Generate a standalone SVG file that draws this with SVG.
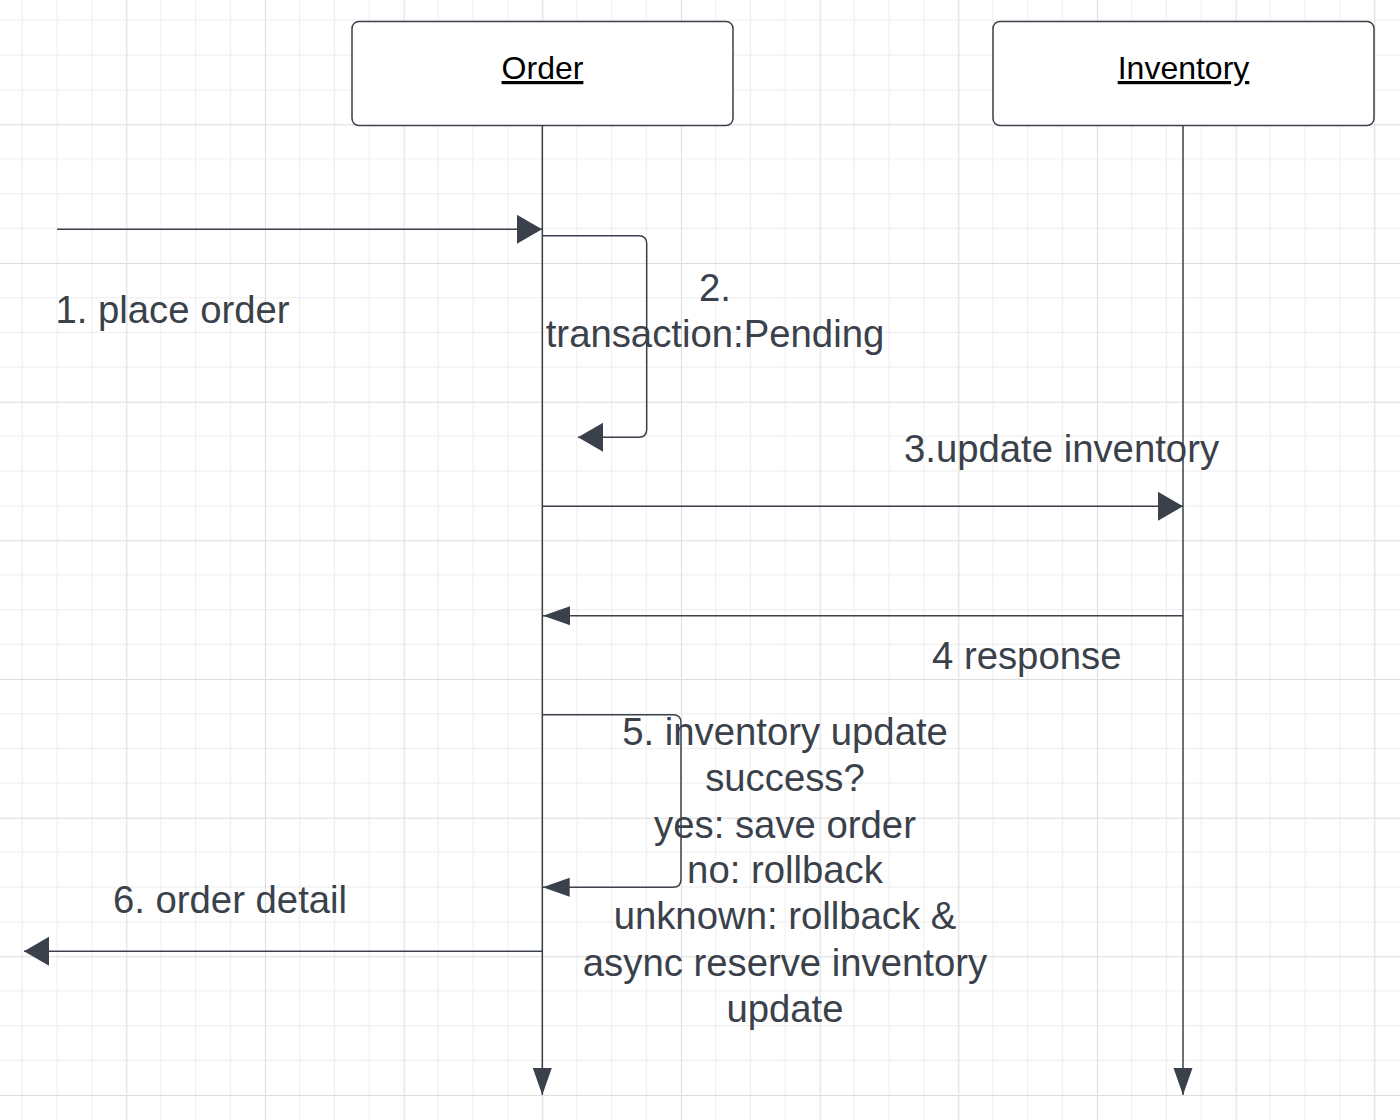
<svg xmlns="http://www.w3.org/2000/svg" width="1400" height="1120" viewBox="0 0 1400 1120">
<style>
.ln{fill:none;stroke:#3a414a;stroke-width:1.5}
.box{fill:#ffffff;stroke:#3a414a;stroke-width:1.5}
.title{font-family:"Liberation Sans",Arial,sans-serif;font-size:32px;fill:#000000;text-anchor:middle;text-decoration:underline}
.lbl{font-family:"Liberation Sans",Arial,sans-serif;font-size:38.3px;fill:#3a414a;text-anchor:middle}
</style>
<defs>
<pattern id="grid" patternUnits="userSpaceOnUse" x="-12.333" y="-14.333" width="138.667" height="138.667">
<path d="M34.667,0V138.667M69.333,0V138.667M104,0V138.667M0,34.667H138.667M0,69.333H138.667M0,104H138.667" stroke="#ededed" stroke-width="1" fill="none"/>
<path d="M0.5,0V138.667M0,0.5H138.667" stroke="#dddddd" stroke-width="1" fill="none"/>
</pattern>
<marker id="wide" markerUnits="userSpaceOnUse" markerWidth="26" markerHeight="30" viewBox="0 0 26 30" refX="25" refY="14.5" orient="auto">
<path d="M0,0L25,14.5L0,29Z" fill="#3a414a"/>
</marker>
<marker id="narrow" markerUnits="userSpaceOnUse" markerWidth="28" markerHeight="20" viewBox="0 0 28 20" refX="27" refY="9.5" orient="auto">
<path d="M0,0L27,9.5L0,19Z" fill="#3a414a"/>
</marker>
</defs>
<rect width="1400" height="1120" fill="#ffffff"/>
<rect width="1400" height="1120" fill="url(#grid)"/>
<g id="connectors">
<path class="ln" d="M542.3,125.7V1095" marker-end="url(#narrow)"/>
<path class="ln" d="M1183,125.7V1095" marker-end="url(#narrow)"/>
<path class="ln" d="M57,229.3H542" marker-end="url(#wide)"/>
<path class="ln" d="M542.3,235.7H638.7Q646.7,235.7 646.7,243.7V429.3Q646.7,437.3 638.7,437.3H578" marker-end="url(#wide)"/>
<path class="ln" d="M542.3,506.3H1183" marker-end="url(#wide)"/>
<path class="ln" d="M1183,615.7H543" marker-end="url(#narrow)"/>
<path class="ln" d="M542.3,714.7H673Q681,714.7 681,722.7V879.3Q681,887.3 673,887.3H542.7" marker-end="url(#narrow)"/>
<path class="ln" d="M542.3,951.3H24" marker-end="url(#wide)"/>
</g>
<g id="node-order">
<rect class="box" x="352" y="21.5" width="381" height="104" rx="7"/>
<text class="title" x="542.5" y="79">Order</text>
</g>
<g id="node-inventory">
<rect class="box" x="993" y="21.5" width="381" height="104" rx="7"/>
<text class="title" x="1183.5" y="79">Inventory</text>
</g>
<g id="labels">
<text class="lbl" x="172.5" y="323.3">1. place order</text>
<text class="lbl" x="715" y="300.7">2.</text>
<text class="lbl" x="715" y="347.3">transaction:Pending</text>
<text class="lbl" x="1061.5" y="461.7">3.update inventory</text>
<text class="lbl" x="1026.7" y="669.3">4 response</text>
<text class="lbl" x="785" y="745">5. inventory update</text>
<text class="lbl" x="785" y="791">success?</text>
<text class="lbl" x="785" y="837.7">yes: save order</text>
<text class="lbl" x="785" y="883.3">no: rollback</text>
<text class="lbl" x="785" y="929.3">unknown: rollback &amp;</text>
<text class="lbl" x="785" y="975.7">async reserve inventory</text>
<text class="lbl" x="785" y="1021.7">update</text>
<text class="lbl" x="230" y="913">6. order detail</text>
</g>
</svg>
